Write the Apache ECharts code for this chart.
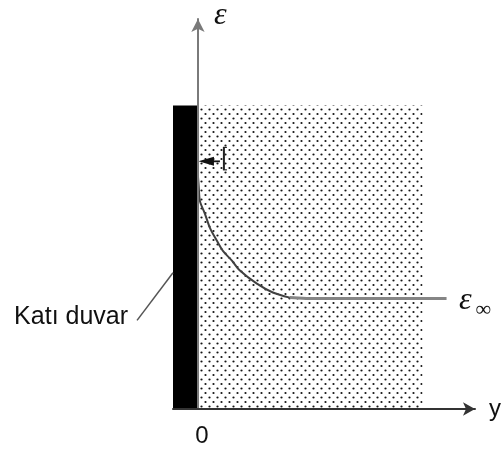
<!DOCTYPE html>
<html><head><meta charset="utf-8">
<script src="https://cdn.jsdelivr.net/npm/echarts@6/dist/echarts.min.js"></script>
<style>html,body{margin:0;padding:0;background:#fff}#c{width:504px;height:454px}</style>
</head><body><div id="c"></div>
<script>
// ---- data (schematic units) ----
const wallX = [-1, 0];          // solid wall thickness
const wallY = [0, 10];          // wall height
const fluidX = [0, 9.0];        // dotted fluid region
const fluidY = [0, 10];
const curveX = [0, 0.03, 0.08, 0.28, 0.48, 0.76, 1.0, 1.36, 1.68, 2.36, 3.0, 3.68];
const curveY = [7.67, 7.34, 6.85, 6.43, 5.97, 5.54, 5.21, 4.89, 4.56, 4.13, 3.84, 3.67];
const flatX = [3.68, 4.36, 9.96];
const flatY = [3.67, 3.64, 3.64];   // epsilon_infinity level
const indicatorX = [0.88, 0];       // small arrow pointing to the wall
const indicatorY = 8.16;
const barX = 1.04;
const barY = [7.88, 8.62];
const leaderX = [-2.44, -1];
const leaderY = [2.92, 4.49];
const xTickLabels = ['0'];
const axisNames = {x: 'y', y: 'ε'};
const wallLabel = 'Katı duvar';
const wallLabelPos = [-2.8, 3.02];
const epsInfPos = [10.46, 3.57];
const infPos = [11.12, 3.26];

// ---- chart ----
function dotPattern(){
  const c = document.createElement('canvas'); c.width = 8; c.height = 9;
  const g = c.getContext('2d');
  g.fillStyle = '#151515';
  [[1.5,1.5],[5.5,6]].forEach(function(p){ g.beginPath(); g.arc(p[0], p[1], 1.1, 0, Math.PI*2); g.fill(); });
  return c;
}
function rectRender(fill){
  return function(params, api){
    const p0 = api.coord([api.value(0), api.value(3)]);
    const p1 = api.coord([api.value(1), api.value(2)]);
    return {type:'rect', shape:{x:p0[0], y:p0[1], width:p1[0]-p0[0], height:p1[1]-p0[1]}, style:{fill: fill}};
  };
}
const chart = echarts.init(document.getElementById('c'));
const option = {
  animation: false,
  backgroundColor: '#fff',
  grid: {left: 173, right: 29, top: 17, bottom: 45},
  xAxis: {
    type: 'value', min: -1, max: 11.1, interval: 1, z: 5,
    name: axisNames.x, nameLocation: 'end', nameGap: 14,
    nameTextStyle: {fontFamily: 'Liberation Sans', fontSize: 24, color: '#111', verticalAlign: 'middle', padding: [24,0,0,0]},
    axisLine: {onZero: false, symbol: ['none','arrow'], symbolSize: [10, 12], lineStyle: {color: '#333', width: 2}},
    axisTick: {show: false}, splitLine: {show: false},
    axisLabel: {margin: 15, fontFamily: 'Liberation Sans', fontSize: 24, color: '#111', padding: [0,0,0,8],
      formatter: function(v){ return v === 0 ? xTickLabels[0] : ''; }}
  },
  yAxis: {
    type: 'value', min: 0, max: 12.85, z: 5,
    name: axisNames.y, nameLocation: 'end', nameGap: 3,
    nameTextStyle: {fontFamily: 'Liberation Serif', fontStyle: 'italic', fontSize: 32, color: '#111', align: 'left', verticalAlign: 'middle', padding: [0,0,0,16]},
    axisLine: {onZero: true, symbol: ['none','arrow'], symbolSize: [10, 13], lineStyle: {color: '#7a7a7a', width: 2}},
    axisTick: {show: false}, splitLine: {show: false}, axisLabel: {show: false}
  },
  series: [
    {type: 'custom', z: 1, data: [[fluidX[0], fluidX[1], fluidY[0], fluidY[1]]],
      renderItem: rectRender({image: dotPattern(), repeat: 'repeat'})},
    {type: 'custom', z: 2, data: [[wallX[0], wallX[1], wallY[0], wallY[1]]], renderItem: rectRender('#000')},
    {type: 'line', z: 3, smooth: 0.3, symbol: 'none', data: curveX.map(function(x,i){ return [x, curveY[i]]; }),
      lineStyle: {color: '#404040', width: 2}},
    {type: 'line', z: 3, symbol: 'none', data: flatX.map(function(x,i){ return [x, flatY[i]]; }),
      lineStyle: {color: '#858585', width: 3}},
    {type: 'custom', z: 4, data: [[0]], renderItem: function(params, api){
      const tail = api.coord([indicatorX[0], indicatorY]);
      const tip = api.coord([indicatorX[1], indicatorY]);
      const b0 = api.coord([barX, barY[0]]), b1 = api.coord([barX, barY[1]]);
      const l0 = api.coord([leaderX[0], leaderY[0]]), l1 = api.coord([leaderX[1], leaderY[1]]);
      const wl = api.coord(wallLabelPos), ep = api.coord(epsInfPos), inf = api.coord(infPos);
      return {type: 'group', children: [
        {type:'line', shape:{x1:tail[0], y1:tail[1], x2:tip[0]+12, y2:tip[1]}, style:{stroke:'#111', lineWidth:1.8}},
        {type:'polygon', shape:{points:[[tip[0]+0.5, tip[1]], [tip[0]+16, tip[1]-4.5], [tip[0]+16, tip[1]+4.5]]}, style:{fill:'#111'}},
        {type:'line', shape:{x1:b0[0], y1:b0[1], x2:b1[0], y2:b1[1]}, style:{stroke:'#222', lineWidth:2}},
        {type:'line', shape:{x1:b0[0]-1, y1:b0[1], x2:b0[0]+3, y2:b0[1]}, style:{stroke:'#222', lineWidth:1.2}},
        {type:'line', shape:{x1:b1[0]-1, y1:b1[1], x2:b1[0]+3, y2:b1[1]}, style:{stroke:'#222', lineWidth:1.2}},
        {type:'line', shape:{x1:l0[0], y1:l0[1], x2:l1[0], y2:l1[1]}, style:{stroke:'#555', lineWidth:1.5}},
        {type:'text', style:{text: wallLabel, x: wl[0], y: wl[1], align:'right', verticalAlign:'middle',
          fontFamily:'Liberation Sans', fontSize:25, fill:'#111'}},
        {type:'text', style:{text: 'ε', x: ep[0], y: ep[1], align:'left', verticalAlign:'middle',
          fontFamily:'Liberation Serif', fontStyle:'italic', fontSize:32, fill:'#111'}},
        {type:'text', style:{text: '∞', x: inf[0], y: inf[1], align:'left', verticalAlign:'middle',
          fontFamily:'Liberation Serif', fontSize:22, fill:'#111'}}
      ]};
    }}
  ]
};
chart.setOption(option);
</script>
</body></html>
